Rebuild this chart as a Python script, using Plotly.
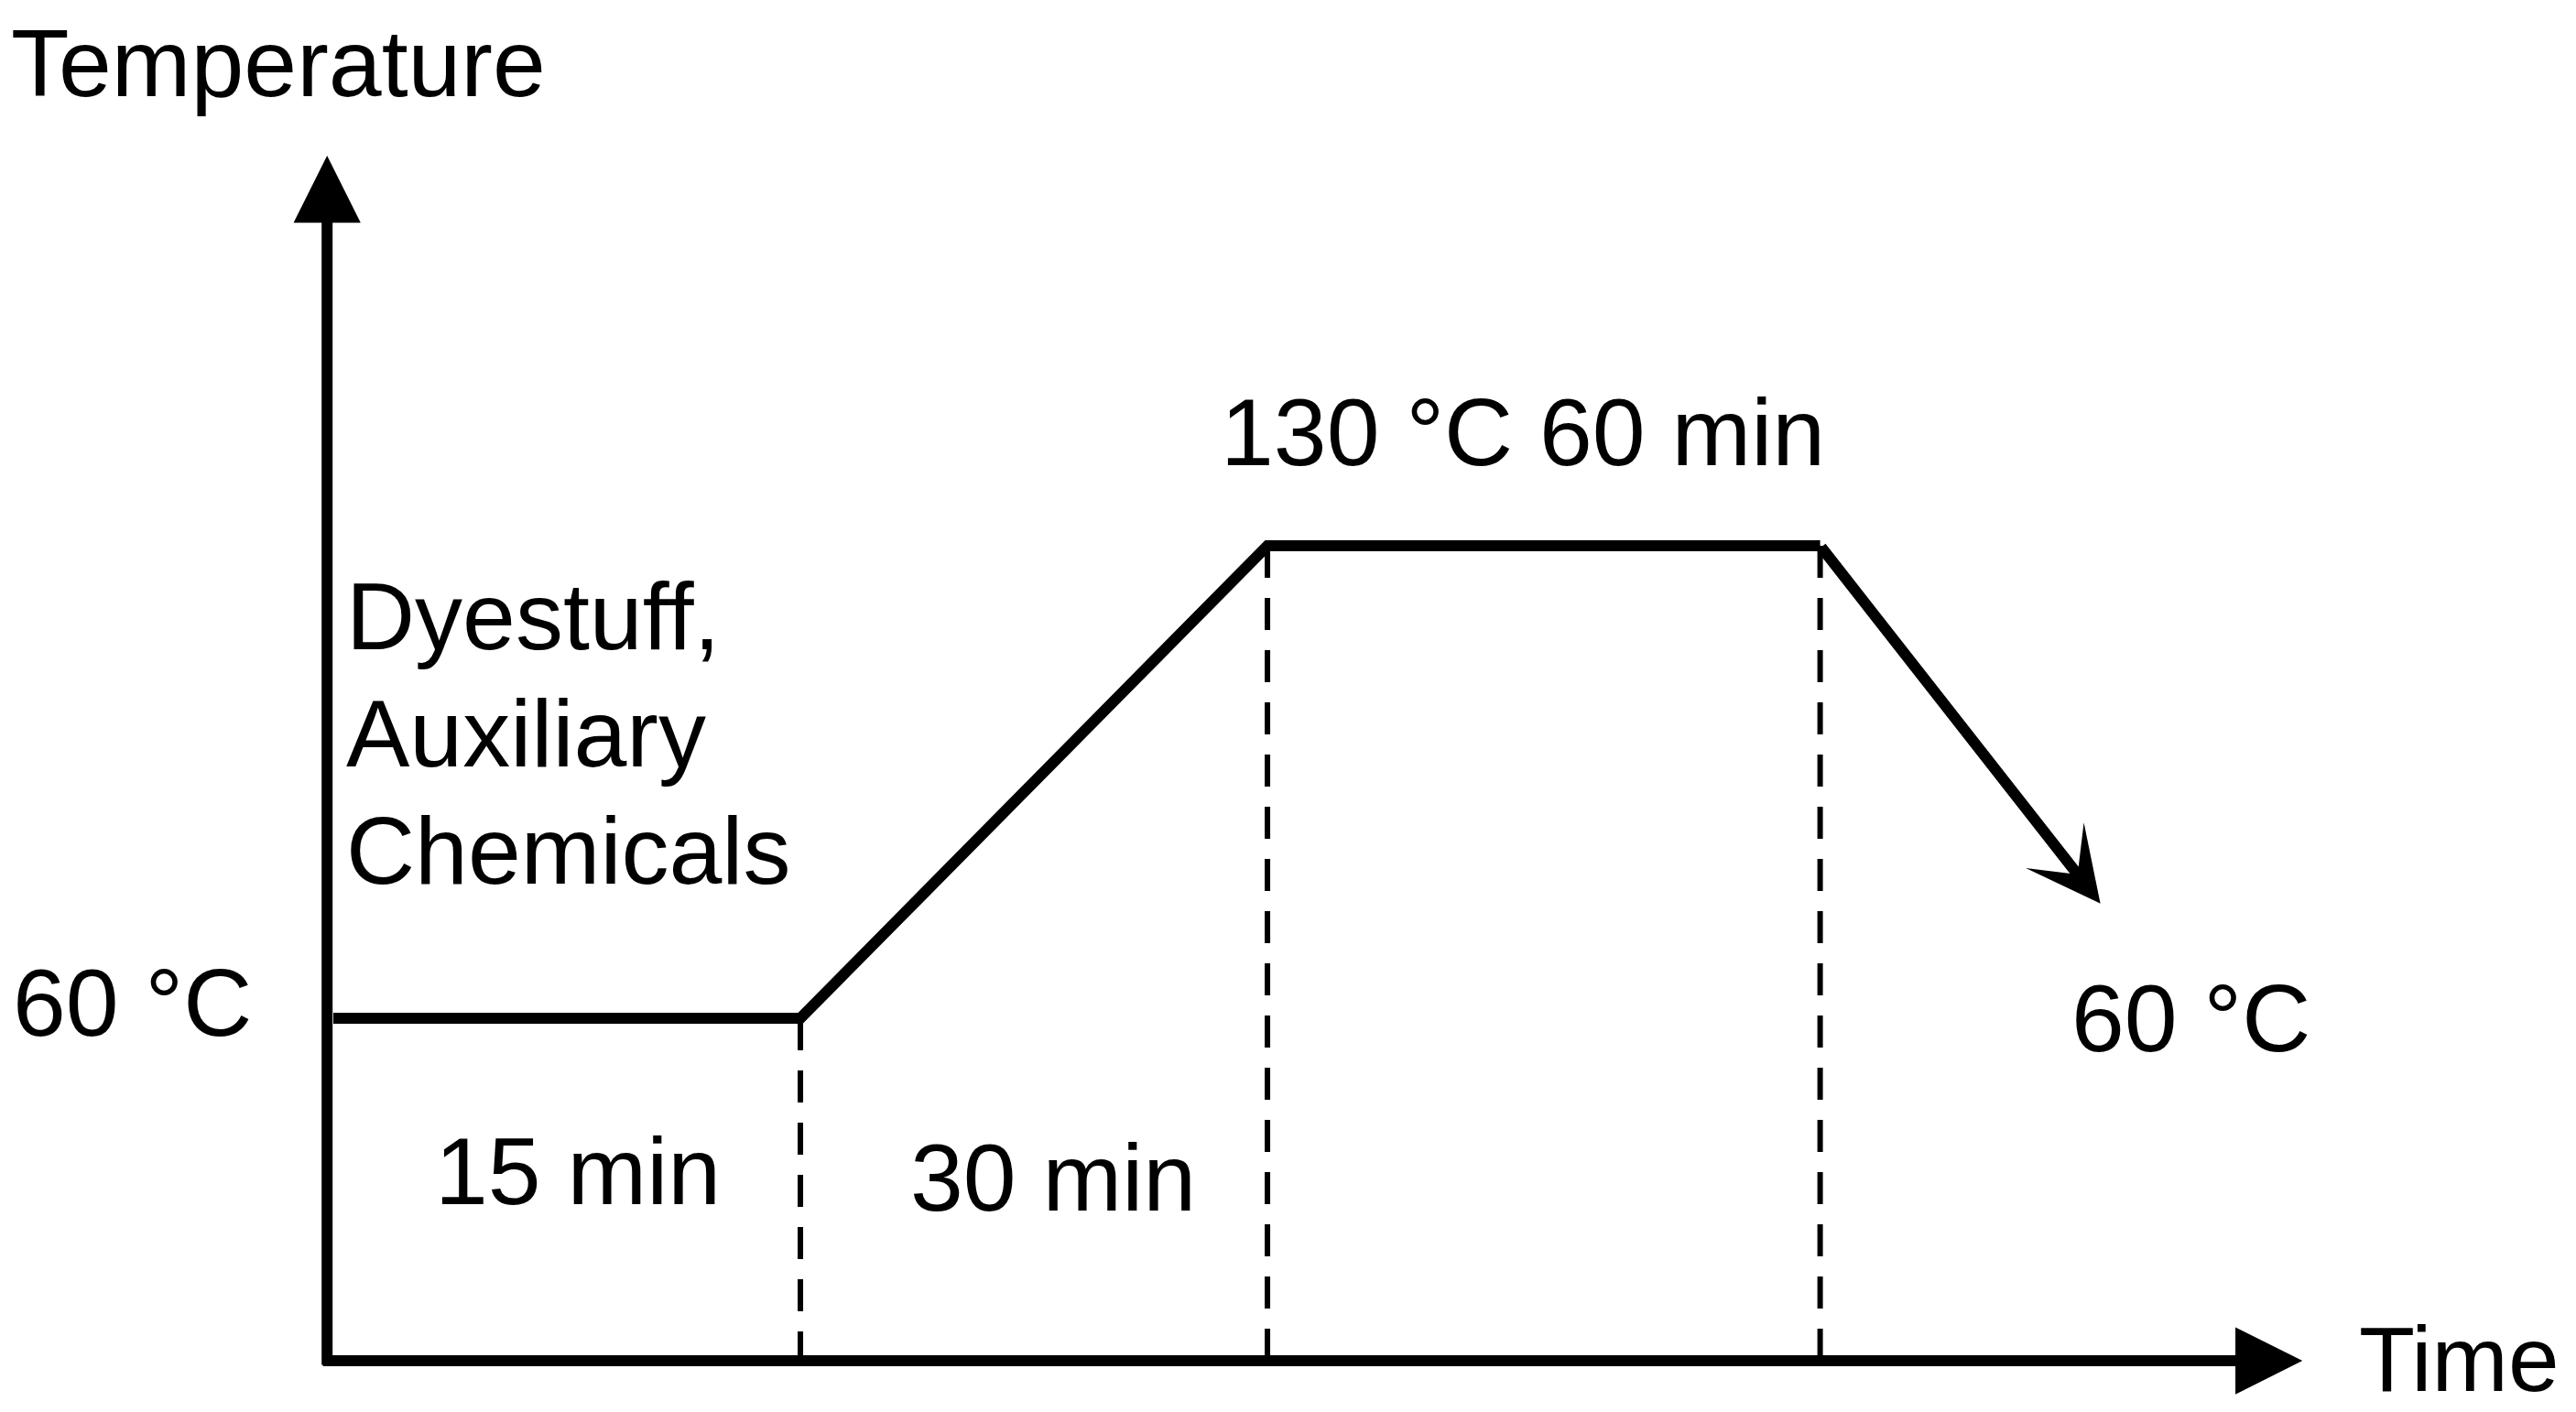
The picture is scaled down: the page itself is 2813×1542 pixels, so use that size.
import plotly.graph_objects as go

# schematic stage positions along the time axis (the drawing is not to scale)
stage_x = [0, 15, 30, 47.75, 56.75]
# temperature at each stage point, the last one is where the cooling arrow ends
stage_temp = [60, 60, 130, 130, 77]
duration_labels = ["15 min", "30 min", "130 °C 60 min"]
start_label = "60 °C"
end_label = "60 °C"
additive_lines = ["Dyestuff,", "Auxiliary", "Chemicals"]

W, H = 2813, 1542
OFF = 8  # default body margin of the html page
FW, FH = W - 2 * OFF, H - OFF
FONT = "Liberation Sans, Arial, Helvetica, sans-serif"
FS = 104

# axis frame (data units)
x_range = [-10.47, 71.79]
y_range = [1.667, 209.77]
x0, y0 = -0.2, 9.26
x_tip, y_tip = 63.24, 187.8


def paper(px, py):
    return (px - OFF) / FW, 1 - (py - OFF) / FH


fig = go.Figure()

# heating profile
fig.add_trace(go.Scatter(x=stage_x[:4], y=stage_temp[:4], mode="lines",
                         line=dict(color="black", width=12), hoverinfo="skip"))

# dashed stage boundaries
for i in range(1, 4):
    fig.add_trace(go.Scatter(x=[stage_x[i], stage_x[i]], y=[stage_temp[i], y0],
                             mode="lines", hoverinfo="skip",
                             line=dict(color="black", width=6, dash="35px,22px")))

anns = []
# axes with arrow heads
anns.append(dict(x=x_tip, y=y0, ax=x0 - 0.18, ay=y0, xref="x", yref="y", axref="x", ayref="y",
                 text="", showarrow=True, arrowhead=2, arrowwidth=12, arrowsize=1.22,
                 arrowcolor="black", standoff=0))
anns.append(dict(x=x0, y=y_tip, ax=x0, ay=y0 - 0.8, xref="x", yref="y", axref="x", ayref="y",
                 text="", showarrow=True, arrowhead=2, arrowwidth=12, arrowsize=1.22,
                 arrowcolor="black", standoff=0))
# cooling arrow
anns.append(dict(x=stage_x[4], y=stage_temp[4], ax=stage_x[3], ay=stage_temp[3],
                 xref="x", yref="y", axref="x", ayref="y",
                 text="", showarrow=True, arrowhead=3, arrowwidth=12, arrowsize=1.12,
                 arrowcolor="black", standoff=0))


def label(text, px, py, xanchor="center", size=FS, yanchor="middle"):
    x, y = paper(px, py)
    anns.append(dict(x=x, y=y, xref="paper", yref="paper", text=text, showarrow=False,
                     xanchor=xanchor, yanchor=yanchor, align="left",
                     font=dict(family=FONT, size=size, color="black")))


label("Temperature", 10, 69, "left")
label("Time", 2574, H, "left", 100, "bottom")
label(start_label, 12, 1095, "left")
for k, line in enumerate(additive_lines):
    label(line, 376, 673 + 128 * k, "left")
label(duration_labels[0], 631, 1279)
label(duration_labels[1], 1150, 1286)
label(duration_labels[2], 1663, 472)
label(end_label, 2392, 1112)

fig.update_layout(
    width=FW, height=FH,
    margin=dict(l=0, r=0, t=0, b=0),
    paper_bgcolor="white", plot_bgcolor="white",
    showlegend=False,
    xaxis=dict(range=x_range, visible=False, fixedrange=True),
    yaxis=dict(range=y_range, visible=False, fixedrange=True),
    annotations=anns,
)

fig.write_html("out.html", config={"displayModeBar": False})
